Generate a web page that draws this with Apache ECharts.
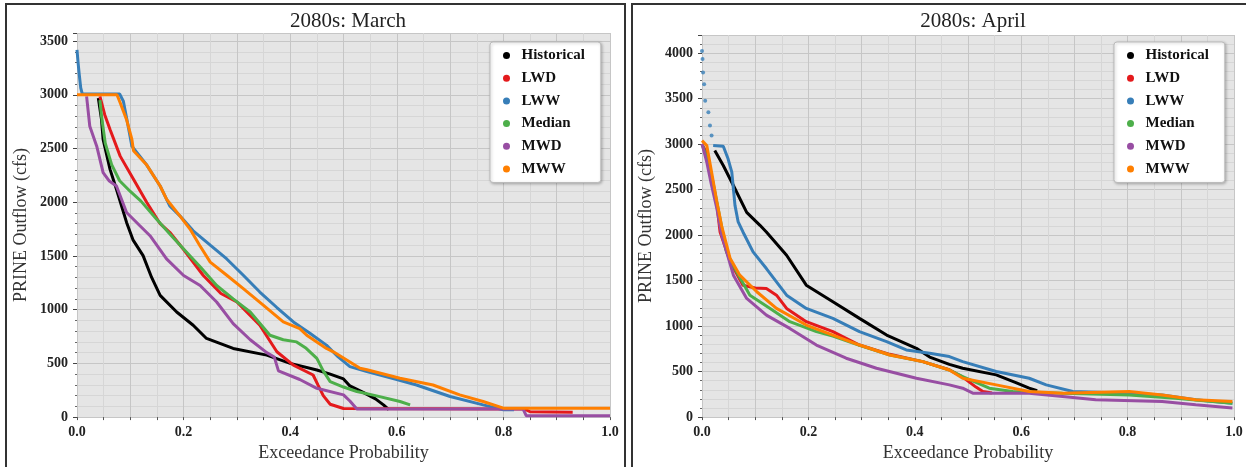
<!DOCTYPE html>
<html>
<head>
<meta charset="utf-8">
<script src="https://cdn.jsdelivr.net/npm/echarts@6/dist/echarts.min.js"></script>
<style>
html,body{margin:0;padding:0;background:#fff;}
#chart{width:1246px;height:467px;}
</style>
</head>
<body>
<div id="chart"></div>
<script>
// ---------- data ----------
const seriesNames = ['Historical', 'LWD', 'LWW', 'Median', 'MWD', 'MWW'];
const seriesColors = ['#000000', '#e41a1c', '#377eb8', '#4daf4a', '#984ea3', '#ff7f00'];
const panelTitles = ['2080s: March', '2080s: April'];
const xTickLabels = ['0.0', '0.2', '0.4', '0.6', '0.8', '1.0'];

// March: [exceedance probability, outflow cfs]
const marHistorical = [[0.040,2969],[0.046,2769],[0.049,2584],[0.062,2306],[0.074,2121],[0.093,1812],[0.105,1650],[0.124,1503],[0.140,1300],[0.156,1133],[0.187,978],[0.218,855],[0.243,732],[0.293,639],[0.356,577],[0.400,500],[0.450,438],[0.475,400],[0.500,355],[0.512,290],[0.537,230],[0.560,170],[0.575,114],[0.585,70]];
const marLWD = [[0.043,2985],[0.052,2815],[0.062,2676],[0.081,2429],[0.106,2213],[0.131,1997],[0.156,1800],[0.174,1720],[0.200,1560],[0.237,1318],[0.270,1150],[0.300,1071],[0.343,855],[0.375,608],[0.406,484],[0.443,392],[0.452,300],[0.462,200],[0.475,120],[0.500,80],[0.840,75],[0.850,50],[0.930,45]];
const marLWW = [[0.000,3417],[0.002,3300],[0.004,3200],[0.007,3065],[0.010,3007],[0.080,3007],[0.087,2940],[0.096,2707],[0.103,2522],[0.130,2352],[0.156,2151],[0.174,1966],[0.193,1873],[0.218,1734],[0.250,1600],[0.281,1472],[0.312,1320],[0.343,1164],[0.375,1020],[0.406,886],[0.437,780],[0.468,670],[0.490,560],[0.512,470],[0.544,423],[0.600,350],[0.637,299],[0.700,192],[0.762,114],[0.800,68],[0.820,68]];
const marMedian = [[0.043,2950],[0.046,2800],[0.053,2550],[0.065,2350],[0.080,2200],[0.100,2100],[0.120,2010],[0.149,1843],[0.175,1700],[0.200,1565],[0.231,1400],[0.262,1225],[0.293,1100],[0.325,978],[0.362,762],[0.387,720],[0.412,700],[0.430,640],[0.450,546],[0.462,430],[0.475,330],[0.500,280],[0.525,238],[0.560,200],[0.606,145],[0.625,114]];
const marMWD = [[0.018,2985],[0.024,2707],[0.037,2522],[0.049,2275],[0.060,2200],[0.074,2151],[0.093,1904],[0.118,1781],[0.137,1688],[0.168,1472],[0.200,1318],[0.231,1225],[0.262,1071],[0.293,870],[0.325,720],[0.356,600],[0.370,560],[0.378,430],[0.418,350],[0.450,268],[0.500,207],[0.512,150],[0.525,75],[0.837,75],[0.843,12],[1.000,12]];
const marMWW = [[0.000,3000],[0.075,3000],[0.081,2926],[0.093,2769],[0.103,2584],[0.106,2480],[0.130,2352],[0.156,2151],[0.168,2028],[0.193,1873],[0.212,1750],[0.230,1600],[0.250,1442],[0.281,1320],[0.312,1195],[0.350,1040],[0.387,886],[0.418,824],[0.431,762],[0.468,639],[0.481,608],[0.531,454],[0.544,440],[0.606,361],[0.668,299],[0.718,207],[0.762,145],[0.800,83],[1.000,83]];

// April
const aprHistorical = [[0.024,2930],[0.040,2766],[0.059,2546],[0.084,2250],[0.109,2108],[0.121,2035],[0.159,1779],[0.196,1450],[0.246,1268],[0.296,1085],[0.347,902],[0.403,756],[0.428,660],[0.465,580],[0.490,537],[0.553,464],[0.590,380],[0.615,318],[0.630,290]];
const aprLWD = [[0.000,3000],[0.009,2900],[0.018,2650],[0.028,2330],[0.034,2035],[0.053,1706],[0.077,1450],[0.100,1420],[0.121,1414],[0.140,1340],[0.159,1195],[0.196,1049],[0.246,939],[0.296,792],[0.353,690],[0.415,610],[0.465,520],[0.490,440],[0.515,330],[0.528,282],[0.545,265]];
const aprLWWTop = [[0.000,4025],[0.001,3935],[0.002,3789],[0.004,3660],[0.006,3478],[0.012,3350],[0.015,3204],[0.018,3094]];
const aprLWW = [[0.021,2985],[0.040,2978],[0.049,2839],[0.056,2693],[0.059,2510],[0.062,2327],[0.068,2145],[0.077,2035],[0.096,1816],[0.121,1633],[0.140,1487],[0.159,1340],[0.196,1195],[0.246,1085],[0.296,939],[0.347,830],[0.384,738],[0.428,701],[0.465,665],[0.490,610],[0.553,501],[0.615,427],[0.647,354],[0.697,282],[0.803,263],[0.865,244],[0.928,190],[0.997,153]];
const aprMedian = [[0.000,3000],[0.009,2850],[0.020,2600],[0.030,2300],[0.046,1816],[0.065,1597],[0.090,1340],[0.128,1195],[0.165,1049],[0.215,939],[0.246,890],[0.296,790],[0.353,683],[0.415,610],[0.465,518],[0.490,445],[0.540,318],[0.584,282],[0.678,263],[0.803,244],[0.890,208],[0.997,153]];
const aprMWD = [[0.000,3003],[0.009,2802],[0.018,2546],[0.028,2291],[0.037,2000],[0.059,1560],[0.084,1304],[0.121,1121],[0.165,975],[0.215,792],[0.271,647],[0.328,537],[0.403,427],[0.465,354],[0.490,318],[0.509,263],[0.615,263],[0.678,226],[0.740,190],[0.865,172],[0.928,135],[0.997,100]];
const aprMWW = [[0.000,3039],[0.009,2985],[0.018,2693],[0.028,2364],[0.037,2100],[0.053,1743],[0.071,1560],[0.103,1378],[0.140,1195],[0.196,1012],[0.246,902],[0.296,792],[0.353,683],[0.415,610],[0.465,518],[0.490,427],[0.553,354],[0.615,282],[0.678,263],[0.803,282],[0.865,244],[0.928,190],[0.997,172]];

const yMaxByPanel = [3575, 4200];

// ---------- chart ----------
const panels = [
  [marHistorical, marLWD, marLWW, marMedian, marMWD, marMWW],
  [aprHistorical, aprLWD, aprLWW, aprMedian, aprMWD, aprMWW]
];
const serif = "'Liberation Serif', 'DejaVu Serif', serif";
const series = [];
panels.forEach((list, gi) => {
  list.forEach((data, si) => {
    if (gi === 1 && si === 2) {
      series.push({
        type: 'scatter', name: seriesNames[si], data: aprLWWTop,
        xAxisIndex: gi, yAxisIndex: gi, symbolSize: 4,
        itemStyle: {color: seriesColors[si]}, silent: true
      });
    }
    series.push({
      type: 'line', name: seriesNames[si], data: data,
      xAxisIndex: gi, yAxisIndex: gi, showSymbol: false, symbol: 'circle',
      lineStyle: {width: 3, color: seriesColors[si]},
      itemStyle: {color: seriesColors[si]}, silent: true
    });
  });
});

const grids = [
  {left: 77, top: 33, width: 533, bottom: 48},
  {left: 702, top: 35, width: 532, bottom: 48}
];

function xAxisFor(gi) {
  return {
    type: 'value', gridIndex: gi, min: 0, max: 1, interval: 0.1,
    name: 'Exceedance Probability', nameLocation: 'middle', nameGap: 26,
    nameTextStyle: {fontFamily: serif, fontSize: 18, color: '#333'},
    axisLine: {show: false},
    axisTick: {show: true, length: 3, lineStyle: {color: '#555'}},
    minorTick: {show: true, splitNumber: 2, length: 3, lineStyle: {color: '#555'}},
    axisLabel: {
      fontFamily: serif, fontWeight: 'bold', fontSize: 14, color: '#222', margin: 8,
      formatter: v => { const k = Math.round(v * 10); return k % 2 === 0 ? xTickLabels[k / 2] : ''; }
    },
    splitLine: {show: true, lineStyle: {color: '#c6c6c6', width: 1}},
    minorSplitLine: {show: true, lineStyle: {color: '#d6d6d6', width: 1}}
  };
}
function yAxisFor(gi) {
  return {
    type: 'value', gridIndex: gi, min: 0, max: yMaxByPanel[gi], interval: 500,
    name: 'PRINE Outflow (cfs)', nameLocation: 'middle', nameGap: 47, nameRotate: 90,
    nameTextStyle: {fontFamily: serif, fontSize: 18, color: '#333'},
    axisLine: {show: false},
    axisTick: {show: true, length: 4, lineStyle: {color: '#444'}},
    minorTick: {show: true, splitNumber: 5, length: 2, lineStyle: {color: '#666'}},
    axisLabel: {fontFamily: serif, fontWeight: 'bold', fontSize: 14, color: '#222', margin: 9, showMaxLabel: false,
      formatter: v => String(Math.round(v))},
    splitLine: {show: true, lineStyle: {color: '#c6c6c6', width: 1}},
    minorSplitLine: {show: true, lineStyle: {color: '#d6d6d6', width: 1}}
  };
}

function legendFor(gi) {
  return {
    show: true, orient: 'vertical',
    left: gi === 0 ? 490 : 1114, top: 42,
    data: seriesNames.map(n => ({name: n, icon: 'circle'})),
    itemWidth: 20, itemHeight: 7, itemGap: 7.7,
    padding: [6, 16, 6, 13],
    backgroundColor: '#ffffff', borderColor: '#bbbbbb', borderWidth: 1, borderRadius: 3,
    shadowColor: 'rgba(0,0,0,0.25)', shadowBlur: 3, shadowOffsetX: 1, shadowOffsetY: 1,
    textStyle: {fontFamily: serif, fontWeight: 'bold', fontSize: 15, color: '#111', lineHeight: 15},
    selectedMode: false
  };
}

const option = {
  backgroundColor: '#ffffff',
  animation: false,
  title: [
    {text: panelTitles[0], left: 343, top: 6, textAlign: 'center',
     textStyle: {fontFamily: serif, fontWeight: 'normal', fontSize: 21, color: '#222'}},
    {text: panelTitles[1], left: 968, top: 6, textAlign: 'center',
     textStyle: {fontFamily: serif, fontWeight: 'normal', fontSize: 21, color: '#222'}}
  ],
  grid: grids.map(g => Object.assign({show: true, backgroundColor: '#e5e5e5', borderWidth: 0}, g)),
  xAxis: [xAxisFor(0), xAxisFor(1)],
  yAxis: [yAxisFor(0), yAxisFor(1)],
  legend: [legendFor(0), legendFor(1)],
  series: series,
  graphic: [
    {type: 'rect', shape: {x: 6, y: 4, width: 619, height: 480}, style: {fill: 'none', stroke: '#333', lineWidth: 2}, silent: true},
    {type: 'rect', shape: {x: 632, y: 4, width: 630, height: 480}, style: {fill: 'none', stroke: '#333', lineWidth: 2}, silent: true}
  ]
};

const chart = echarts.init(document.getElementById('chart'), null, {renderer: 'canvas'});
chart.setOption(option);
</script>
</body>
</html>
